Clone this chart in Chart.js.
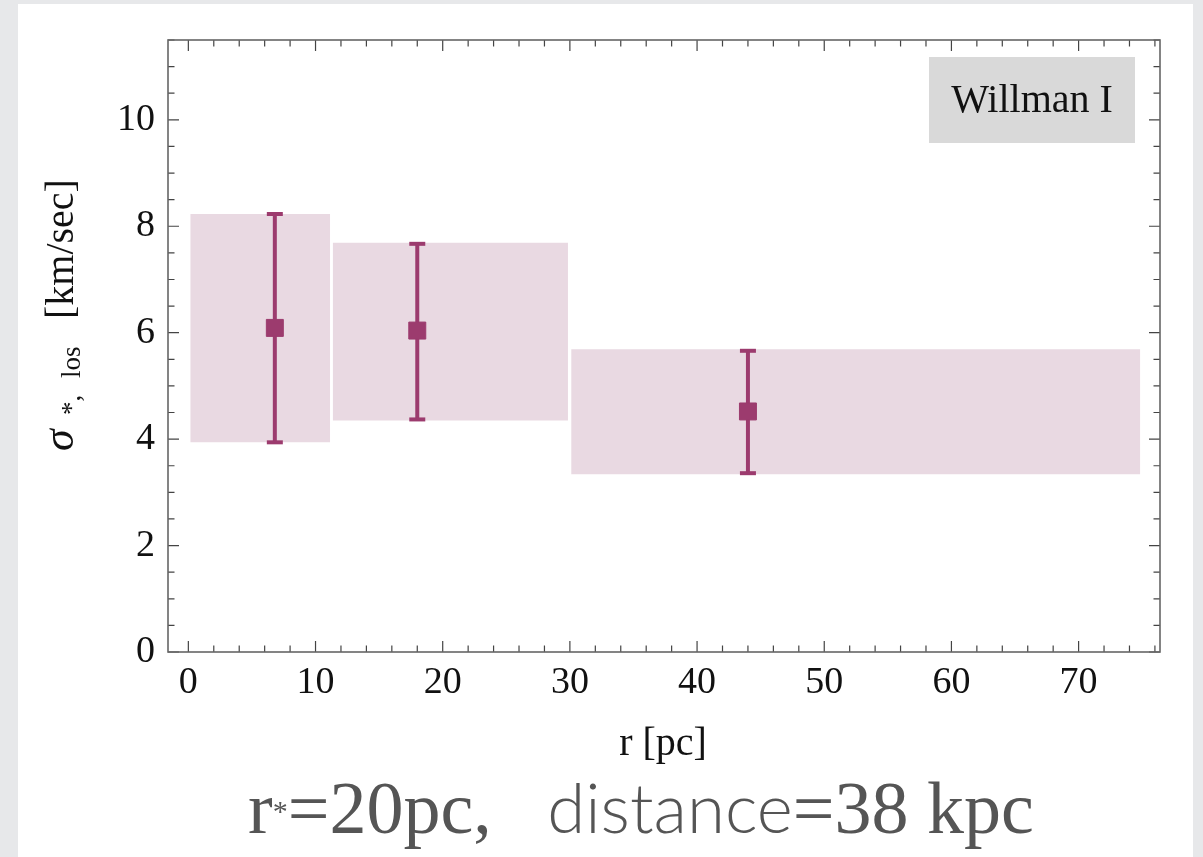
<!DOCTYPE html>
<html>
<head>
<meta charset="utf-8">
<script src="https://cdn.jsdelivr.net/npm/chart.js@4"></script>
<style>
    body { margin: 0; background: #e7e8ea; overflow: hidden; }
    #panel { position: absolute; left: 18px; top: 4px; width: 1175px; height: 853px; background: #ffffff; }
    #holder { position: absolute; left: 0; top: 0; width: 1203px; height: 857px; }
    #caption {
        position: absolute; left: 248px; top: 770px; white-space: pre;
        font-family: "Liberation Serif", "Times New Roman", serif; font-size: 74px;
        line-height: 74px; color: #555555;
    }
    #caption .star { font-size: 30px; vertical-align: 12px; }
    #caption .sans { font-family: Lato, "Open Sans", sans-serif; font-weight: 300; font-size: 69px; }
</style>
</head>
<body>
<div id="panel"></div>
<div id="holder"><canvas id="sigma-chart"></canvas></div>
<div id="caption">r<span class="star">*</span>=20pc,   <span class="sans">distance</span>=38 kpc</div>
<script>
const SERIF = "'Liberation Serif', 'Times New Roman', serif";
const MARKCOLOR = "#9c3b6e";
const BOXCOLOR = "#e9d9e2";
const FRAMECOLOR = "#666666";
const TICKCOLOR = "#444444";

// radial bins (pc) and the shaded 1-sigma band of each bin (km/sec)
const BIN_LEFT = [0.15, 11.35, 30.1];
const BIN_RIGHT = [11.15, 29.85, 74.85];
const BAND_HIGH = [8.23, 7.69, 5.69];
const BAND_LOW = [3.94, 4.35, 3.34];

// measured dispersion per bin with error bars
const R_POINT = [6.8, 18.0, 44.0];
const SIGMA_POINT = [6.09, 6.04, 4.52];
const ERR_HIGH = [8.23, 7.67, 5.66];
const ERR_LOW = [3.94, 4.37, 3.36];

const X_TICKS = [0, 10, 20, 30, 40, 50, 60, 70];
const Y_TICKS = [0, 2, 4, 6, 8, 10];
const LABEL = "Willman I";

const datasets = [];

// markers on top
datasets.push({
    data: R_POINT.map((r, i) => ({ x: r, y: SIGMA_POINT[i] })),
    pointStyle: "rect",
    pointRadius: 12,
    pointBackgroundColor: MARKCOLOR,
    pointBorderColor: MARKCOLOR,
    pointBorderWidth: 1,
    showLine: false,
    order: 0
});

// error bars, caps drawn with the 'line' point style
R_POINT.forEach((r, i) => {
    datasets.push({
        data: [{ x: r, y: ERR_LOW[i] }, { x: r, y: ERR_HIGH[i] }],
        showLine: true,
        borderColor: MARKCOLOR,
        borderWidth: 4,
        pointStyle: "line",
        pointRadius: 8,
        pointBorderWidth: 4,
        pointBorderColor: MARKCOLOR,
        order: 1
    });
});

// shaded bands
BIN_LEFT.forEach((left, i) => {
    datasets.push({
        data: [{ x: left, y: BAND_HIGH[i] }, { x: BIN_RIGHT[i], y: BAND_HIGH[i] }],
        showLine: true,
        borderWidth: 0,
        borderColor: "rgba(0,0,0,0)",
        backgroundColor: BOXCOLOR,
        fill: { value: BAND_LOW[i] },
        pointRadius: 0,
        order: 2
    });
});

const frameAndLabels = {
    id: "frameAndLabels",
    afterDraw(chart) {
        const ctx = chart.ctx;
        const area = chart.chartArea;
        const xs = chart.scales.x;
        const ys = chart.scales.y;
        ctx.save();

        // inside ticks on all four sides
        ctx.strokeStyle = TICKCOLOR;
        ctx.lineWidth = 1.2;
        ctx.beginPath();
        for (let v = 0; v <= 76; v += 2) {
            const px = xs.getPixelForValue(v);
            const len = v % 10 === 0 ? 11 : 6.5;
            ctx.moveTo(px, area.bottom); ctx.lineTo(px, area.bottom - len);
            ctx.moveTo(px, area.top); ctx.lineTo(px, area.top + len);
        }
        for (let v = 0; v <= 11.5; v += 0.5) {
            const py = ys.getPixelForValue(v);
            const len = v % 2 === 0 ? 11 : 6.5;
            ctx.moveTo(area.left, py); ctx.lineTo(area.left + len, py);
            ctx.moveTo(area.right, py); ctx.lineTo(area.right - len, py);
        }
        ctx.stroke();

        ctx.strokeStyle = FRAMECOLOR;
        ctx.lineWidth = 1.6;
        ctx.strokeRect(area.left, area.top, area.right - area.left, area.bottom - area.top);

        // label box
        ctx.fillStyle = "#d9d9d9";
        ctx.fillRect(929, 57, 206, 86);
        ctx.fillStyle = "#111111";
        ctx.font = "40px " + SERIF;
        ctx.textAlign = "center";
        ctx.textBaseline = "alphabetic";
        ctx.fillText(LABEL, 1032, 112);

        // x title
        ctx.fillText("r [pc]", 663, 755);

        // y title, rotated
        ctx.translate(73, 451);
        ctx.rotate(-Math.PI / 2);
        ctx.textAlign = "left";
        ctx.font = "italic 44px " + SERIF;
        ctx.fillText("\u03C3", 0, 0);
        ctx.font = "27px " + SERIF;
        ctx.fillText("*,", 36, 7);
        ctx.fillText("los", 73, 7);
        ctx.font = "40px " + SERIF;
        ctx.fillText("[km/sec]", 132, 0);
        ctx.restore();
    }
};

const ctx = document.querySelector("#sigma-chart").getContext("2d");
const configuration = {
    type: "scatter",
    data: { datasets: datasets },
    options: {
        animation: false,
        events: [],
        responsive: true,
        maintainAspectRatio: false,
        layout: { padding: { left: 0, right: 43, top: 40, bottom: 0 } },
        scales: {
            x: {
                type: "linear",
                min: -1.6,
                max: 76.4,
                afterBuildTicks: (scale) => { scale.ticks = X_TICKS.map(v => ({ value: v })); },
                afterFit: (scale) => { scale.height = 205; },
                grid: { display: false, drawTicks: false },
                border: { display: false },
                ticks: {
                    color: "#111111",
                    font: { family: SERIF, size: 38 },
                    padding: 8,
                    maxRotation: 0
                }
            },
            y: {
                type: "linear",
                min: 0,
                max: 11.5,
                afterBuildTicks: (scale) => { scale.ticks = Y_TICKS.map(v => ({ value: v })); },
                afterFit: (scale) => { scale.width = 168; },
                grid: { display: false, drawTicks: false },
                border: { display: false },
                ticks: {
                    color: "#111111",
                    font: { family: SERIF, size: 38 },
                    padding: 13
                }
            }
        },
        plugins: {
            legend: { display: false },
            tooltip: { enabled: false }
        }
    },
    plugins: [frameAndLabels]
};
new Chart(ctx, configuration);
</script>
</body>
</html>
